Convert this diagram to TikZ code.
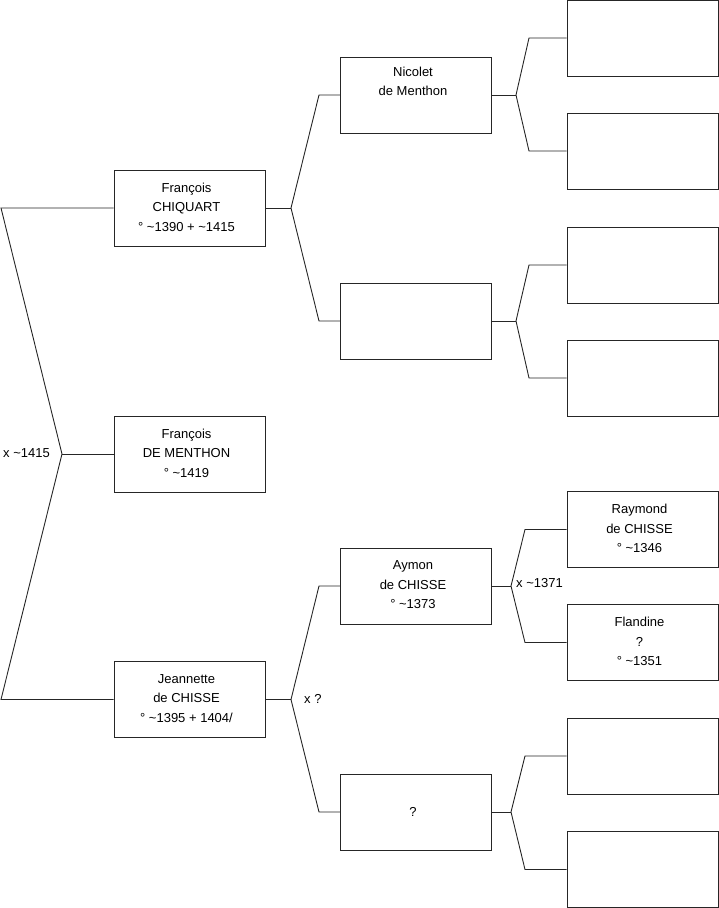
\documentclass[tikz,border=0pt]{standalone}
\usepackage{fontspec}
\setmainfont{Liberation Sans}
\begin{document}
\begin{tikzpicture}[x=1pt,y=-1pt,
  person/.style={draw=black!85,line width=0.9pt,minimum width=151pt,minimum height=76pt,inner sep=0pt},
  ptext/.style={inner sep=0pt,align=center,font=\fontsize{13}{19.5}\selectfont},
  link/.style={draw=black!85,line width=0.9pt},
  lbl/.style={font=\fontsize{13}{15}\selectfont,inner sep=0pt}]
\useasboundingbox (0,0) rectangle (719,908);
% column 1
\node[person] (fc) at (189.5,208) {};
\node[person] (fm) at (189.5,454) {};
\node[person] (jc) at (189.5,699.5) {};
% column 2
\node[person] (nm) at (416,95) {};
\node[person] (e2) at (416,321) {};
\node[person] (ac) at (416,586) {};
\node[person] (q2) at (416,812) {};
% column 3
\node[person] (e31) at (642.5,38) {};
\node[person] (e32) at (642.5,151) {};
\node[person] (e33) at (642.5,265) {};
\node[person] (e34) at (642.5,378) {};
\node[person] (rc) at (642.5,529.5) {};
\node[person] (fl) at (642.5,642.5) {};
\node[person] (e37) at (642.5,756) {};
\node[person] (e38) at (642.5,869.5) {};
% texts
\node[ptext] (fct) at ([xshift=-3pt,yshift=1pt]fc.center) {François\\CHIQUART\\° \textasciitilde1390 + \textasciitilde1415};
\node[ptext] (fmt) at ([xshift=-3pt,yshift=1pt]fm.center) {François\\DE MENTHON\\° \textasciitilde1419};
\node[ptext] (jct) at ([xshift=-3pt,yshift=1pt]jc.center) {Jeannette\\de CHISSE\\° \textasciitilde1395 + 1404/};
\node[ptext] (nmt) at ([xshift=-3pt,yshift=1pt]nm.center) {Nicolet\\de Menthon\\\strut};
\node[ptext] (act) at ([xshift=-3pt,yshift=1pt]ac.center) {Aymon\\de CHISSE\\° \textasciitilde1373};
\node[ptext] (q2t) at ([xshift=-3pt]q2.center) {?};
\node[ptext] (rct) at ([xshift=-3pt,yshift=1pt]rc.center) {Raymond\\de CHISSE\\° \textasciitilde1346};
\node[ptext] (flt) at ([xshift=-3pt,yshift=1pt]fl.center) {Flandine\\?\\° \textasciitilde1351};
% fork coordinates
\coordinate (k0) at (62,454);
\coordinate (k0a) at (1,208);
\coordinate (k0b) at (1,699.5);
\coordinate (k1) at (291,208);
\coordinate (k1a) at (319,95);
\coordinate (k1b) at (319,321);
\coordinate (k2) at (291,699.5);
\coordinate (k2a) at (319,586);
\coordinate (k2b) at (319,812);
\coordinate (k3) at (516,95);
\coordinate (k3a) at (529,38);
\coordinate (k3b) at (529,151);
\coordinate (k4) at (516,321);
\coordinate (k4a) at (529,265);
\coordinate (k4b) at (529,378);
\coordinate (k5) at (511,586);
\coordinate (k5a) at (525,529.5);
\coordinate (k5b) at (525,642.5);
\coordinate (k6) at (511,812);
\coordinate (k6a) at (525,756);
\coordinate (k6b) at (525,869.5);
% connectors
\draw[link] (fm.west) -- (k0);
\draw[link] (fc.west) -- (k0a) -- (k0);
\draw[link] (jc.west) -- (k0b) -- (k0);
\draw[link] (fc.east) -- (k1);
\draw[link] (nm.west) -- (k1a) -- (k1) -- (k1b) -- (e2.west);
\draw[link] (jc.east) -- (k2);
\draw[link] (ac.west) -- (k2a) -- (k2) -- (k2b) -- (q2.west);
\draw[link] (nm.east) -- (k3);
\draw[link] (e31.west) -- (k3a) -- (k3) -- (k3b) -- (e32.west);
\draw[link] (e2.east) -- (k4);
\draw[link] (e33.west) -- (k4a) -- (k4) -- (k4b) -- (e34.west);
\draw[link] (ac.east) -- (k5);
\draw[link] (rc.west) -- (k5a) -- (k5) -- (k5b) -- (fl.west);
\draw[link] (q2.east) -- (k6);
\draw[link] (e37.west) -- (k6a) -- (k6) -- (k6b) -- (e38.west);
% marriage labels
\node[lbl,anchor=west] (m0) at (3,453) {x \textasciitilde1415};
\node[lbl,anchor=west] (m1) at (304,699) {x ?};
\node[lbl,anchor=west] (m2) at (516,583.5) {x \textasciitilde1371};
\end{tikzpicture}
\end{document}
